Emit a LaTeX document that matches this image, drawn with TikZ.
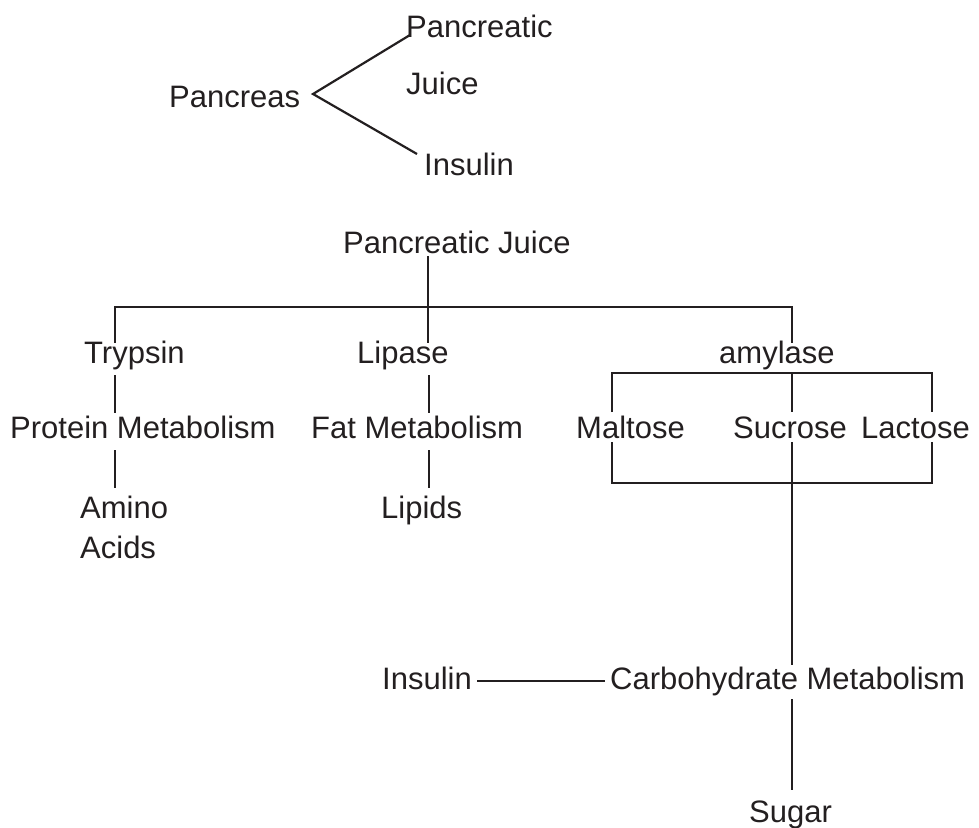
\documentclass[tikz,border=0pt]{standalone}
\usepackage{fontspec}
\setmainfont{Liberation Sans}
\definecolor{ink}{RGB}{35,31,32}
\begin{document}
\begin{tikzpicture}[x=1pt,y=-1pt,
  lbl/.style={inner sep=0pt, anchor=base west, font=\fontsize{31}{37}\selectfont, text=ink},
  ln/.style={draw=ink, line width=2.2pt}]
\useasboundingbox (0,0) rectangle (979,827);
% top part
\node[lbl] (pancreas) at (169,107) {Pancreas};
\node[lbl] (pjA) at (406,37) {Pancreatic};
\node[lbl] (pjB) at (406,94) {Juice};
\node[lbl] (insA) at (424,175) {Insulin};
\coordinate (apex) at (313,94);
\coordinate (upE) at (410,35);
\coordinate (loE) at (417,154);
\draw[ln] (upE) -- (apex) -- (loE);
% middle tree
\node[lbl] (pj) at (343,253) {Pancreatic Juice};
\node[lbl] (tryp) at (84,363) {Trypsin};
\node[lbl] (lip) at (357,363) {Lipase};
\node[lbl] (amy) at (719,363) {amylase};
\node[lbl] (prot) at (10,438) {Protein Metabolism};
\node[lbl] (fat) at (311,438) {Fat Metabolism};
\node[lbl] (amino) at (80,518) {Amino};
\node[lbl] (acids) at (80,558) {Acids};
\node[lbl] (lipids) at (381,518) {Lipids};
\coordinate (pjS) at (428,256);
\coordinate (barL) at (115,307);
\coordinate (barM) at (428,307);
\coordinate (barR) at (792,307);
\coordinate (trypN) at (115,343);
\coordinate (lipN) at (428,343);
\coordinate (amyN) at (792,343);
\draw[ln] (pjS) -- (barM) -- (lipN);
\draw[ln] (trypN) -- (barL) -- (barR) -- (amyN);
\coordinate (trypS) at (115,375);
\coordinate (protN) at (115,413);
\coordinate (protS) at (115,450);
\coordinate (aminoN) at (115,488);
\draw[ln] (trypS) -- (protN);
\draw[ln] (protS) -- (aminoN);
\coordinate (lipS) at (429,375);
\coordinate (fatN) at (429,413);
\coordinate (fatS) at (429,450);
\coordinate (lipidsN) at (429,488);
\draw[ln] (lipS) -- (fatN);
\draw[ln] (fatS) -- (lipidsN);
% amylase bracket
\node[lbl] (mal) at (576,438) {Maltose};
\node[lbl] (suc) at (733,438) {Sucrose};
\node[lbl] (lac) at (861,438) {Lactose};
\coordinate (brTL) at (612,373);
\coordinate (brTM) at (792,373);
\coordinate (brTR) at (932,373);
\coordinate (malN) at (612,412);
\coordinate (sucN) at (792,412);
\coordinate (lacN) at (932,412);
\draw[ln] (malN) -- (brTL) -- (brTR) -- (lacN);
\draw[ln] (brTM) -- (sucN);
\coordinate (malS) at (612,442);
\coordinate (sucS) at (792,442);
\coordinate (lacS) at (932,442);
\coordinate (brBL) at (612,483);
\coordinate (brBR) at (932,483);
\draw[ln] (malS) -- (brBL) -- (brBR) -- (lacS);
% carbohydrate part
\node[lbl] (insB) at (382,689) {Insulin};
\node[lbl] (carb) at (610,689) {Carbohydrate Metabolism};
\node[lbl] (sugar) at (749,822) {Sugar};
\coordinate (carbN) at (792,665);
\coordinate (carbS) at (792,699);
\coordinate (sugarN) at (792,790);
\coordinate (insE) at (477,681);
\coordinate (carbW) at (605,681);
\draw[ln] (sucS) -- (carbN);
\draw[ln] (carbS) -- (sugarN);
\draw[ln] (insE) -- (carbW);
\end{tikzpicture}
\end{document}
